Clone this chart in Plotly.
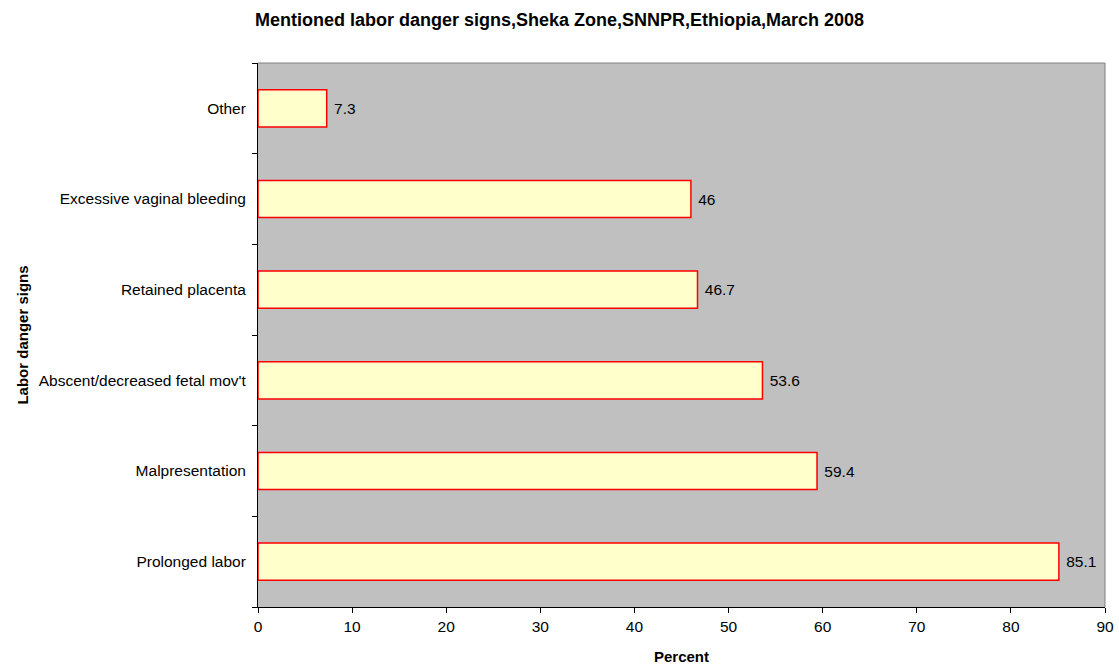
import plotly.graph_objects as go

signs = ["Prolonged labor", "Malpresentation", "Abscent/decreased fetal mov't",
         "Retained placenta", "Excessive vaginal bleeding", "Other"]
percent = [85.1, 59.4, 53.6, 46.7, 46, 7.3]
value_labels = ["85.1", "59.4", "53.6", "46.7", "46", "7.3"]
x_ticks = [0, 10, 20, 30, 40, 50, 60, 70, 80, 90]

font_family = "Liberation Sans, Arial, sans-serif"

fig = go.Figure(go.Bar(
    y=signs, x=percent, orientation="h",
    text=["\u00a0" + t for t in value_labels], textposition="outside", cliponaxis=False,
    textfont=dict(size=15.5, color="black", family=font_family),
    marker=dict(color="#FFFFCC", line=dict(color="#FF0000", width=1.5)),
))

fig.update_layout(
    width=1119, height=667,
    margin=dict(l=258, r=14, t=63, b=60, autoexpand=False),
    paper_bgcolor="white", plot_bgcolor="#C0C0C0",
    bargap=0.59, showlegend=False,
    font=dict(family=font_family, size=15.5, color="black"),
    title=dict(text="<b>Mentioned labor danger signs,Sheka Zone,SNNPR,Ethiopia,March 2008</b>",
               x=0.5, xanchor="center", y=0.97, yanchor="middle",
               font=dict(size=18, family=font_family)),
    xaxis=dict(range=[0, 90], tickvals=x_ticks, showgrid=False, zeroline=False,
               showline=True, linecolor="black", linewidth=1,
               ticks="outside", ticklen=5, tickcolor="black",
               title=dict(text="<b>Percent</b>", font=dict(size=15), standoff=17)),
    yaxis=dict(showgrid=False, zeroline=False, showline=True, linecolor="black",
               linewidth=1, ticks="outside", ticklen=5, tickcolor="black",
               tickson="boundaries", ticklabelstandoff=8,
               title=dict(text="<b>Labor danger signs</b>", font=dict(size=15), standoff=6)),
)

# grey frame on the top and right of the plotting area
fig.add_shape(type="line", xref="paper", yref="paper", x0=0, x1=1, y0=1, y1=1,
              line=dict(color="#808080", width=1))
fig.add_shape(type="line", xref="paper", yref="paper", x0=1, x1=1, y0=0, y1=1,
              line=dict(color="#808080", width=1))

fig.write_html("out.html")
